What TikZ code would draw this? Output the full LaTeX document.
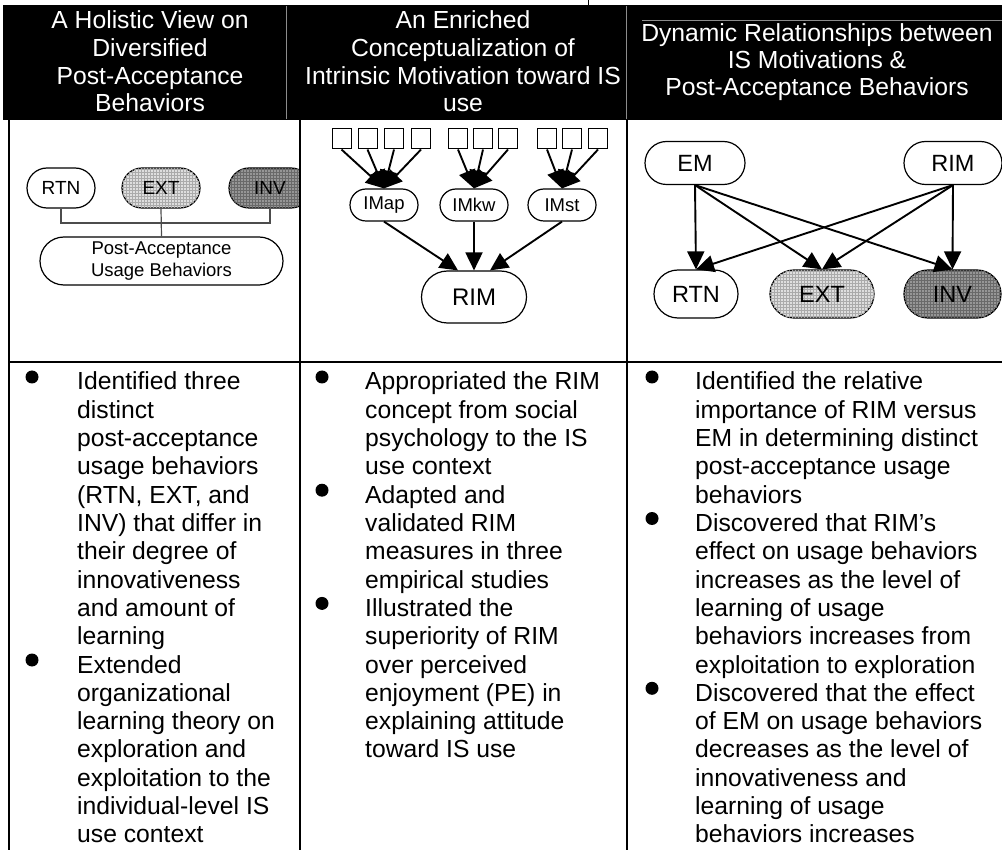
\documentclass[tikz,border=0pt]{standalone}
\usepackage{fontspec}
\setmainfont{Liberation Sans}
\usetikzlibrary{arrows.meta,shapes.misc,patterns}

\definecolor{extfill}{RGB}{222,222,222}
\definecolor{extgrid}{RGB}{170,170,170}
\definecolor{invfill}{RGB}{150,150,150}
\definecolor{invgrid}{RGB}{105,105,105}
\definecolor{sepgray}{RGB}{140,140,140}

\tikzset{
  stadium/.style={rounded rectangle, draw=black, line width=1.2pt, inner sep=0pt},
  extstyle/.style={fill=extfill, postaction={pattern=grid, pattern color=extgrid}},
  invstyle/.style={fill=invfill, postaction={pattern=grid, pattern color=invgrid}},
  sqbox/.style={rectangle, draw=black, line width=1pt, minimum width=19pt, minimum height=20pt, inner sep=0pt},
  arr/.style={-{Triangle[length=18pt,width=17pt]}, line width=1.9pt},
  link/.style={line width=1.2pt, draw=black!70},
  headtxt/.style={anchor=base, inner sep=0pt, text=white, font=\fontsize{24.7}{28}\selectfont},
  bodytxt/.style={anchor=base west, inner sep=0pt, font=\fontsize{24.7}{28}\selectfont},
  dot/.style={circle, fill=black, minimum size=13pt, inner sep=0pt},
  rule/.style={line width=2.4pt, draw=black},
}

\begin{document}
\begin{tikzpicture}[x=1pt,y=-1pt]
\useasboundingbox (0,0) rectangle (1002,850);

% ---------- header band ----------
\fill[black] (3,5) rectangle (1002,120);
\draw[sepgray, line width=0.8pt] (286,6) -- (286,119);
\draw[sepgray, line width=0.8pt] (626,6) -- (626,119);
\draw[sepgray, line width=0.8pt] (642,20) -- (1002,20);
\draw[line width=1pt] (588,0) -- (588,5);

\foreach \t [count=\i from 0] in {A Holistic View on, Diversified, Post-Acceptance, Behaviors}
  \node[headtxt] (ha\i) at (150, 28.5+27.8*\i) {\t};
\foreach \t [count=\i from 0] in {An Enriched, Conceptualization of, Intrinsic Motivation toward IS, use}
  \node[headtxt] (hb\i) at (463, 28.5+27.8*\i) {\t};
\foreach \t [count=\i from 0] in {Dynamic Relationships between, IS Motivations \&, Post-Acceptance Behaviors}
  \node[headtxt] (hc\i) at (817, 42+26.8*\i) {\t};

% ---------- column 1 diagram ----------
\begin{scope}
  \clip (9,118) rectangle (300,362);
  \node[stadium, minimum width=68pt, minimum height=40pt, font=\fontsize{19}{21}\selectfont] (rtnA) at (61,188) {RTN};
  \node[stadium, extstyle, minimum width=78pt, minimum height=40pt, font=\fontsize{19}{21}\selectfont] (extA) at (161,188) {EXT};
  \node[stadium, invstyle, minimum width=82pt, minimum height=40pt, font=\fontsize{19}{21}\selectfont] (invA) at (270,188) {INV};
  \node[stadium, minimum width=243pt, minimum height=48pt, align=center, font=\fontsize{18.5}{22}\selectfont] (pau) at (161.5,261) {Post-Acceptance\\Usage Behaviors};
  \coordinate (hub) at (161,223);
  \draw[link] (rtnA.south) |- (hub) -| (invA.south);
  \draw[link] (extA.south) -- (pau.north);
\end{scope}

% ---------- column 2 diagram ----------
\node[stadium, minimum width=68pt, minimum height=32pt, font=\fontsize{18.5}{20}\selectfont] (imap) at (384,205) {IMap};
\node[stadium, minimum width=68pt, minimum height=32pt, font=\fontsize{18.5}{20}\selectfont] (imkw) at (474,205) {IMkw};
\node[stadium, minimum width=68pt, minimum height=32pt, font=\fontsize{18.5}{20}\selectfont] (imst) at (562,205) {IMst};
\node[stadium, minimum width=105pt, minimum height=52pt, font=\fontsize{24}{26}\selectfont] (rimB) at (474,297) {RIM};

\foreach \x [count=\i] in {341.5,367.5,394,421} {
  \node[sqbox] (sa\i) at (\x,139) {};
  \draw[arr] (sa\i.south) -- (imap.north);
}
\foreach \x [count=\i] in {458,483,508} {
  \node[sqbox] (sb\i) at (\x,139) {};
  \draw[arr] (sb\i.south) -- (imkw.north);
}
\foreach \x [count=\i] in {547,572,598} {
  \node[sqbox] (sc\i) at (\x,139) {};
  \draw[arr] (sc\i.south) -- (imst.north);
}
\draw[arr] (imap.south) -- ([xshift=-16pt]rimB.north);
\draw[arr] (imkw.south) -- (rimB.north);
\draw[arr] (imst.south) -- ([xshift=16pt]rimB.north);

% ---------- column 3 diagram ----------
\node[stadium, minimum width=100pt, minimum height=43pt, font=\fontsize{23.5}{26}\selectfont] (em) at (695,163) {EM};
\node[stadium, minimum width=98pt, minimum height=43pt, font=\fontsize{23.5}{26}\selectfont] (rimC) at (953,163) {RIM};
\node[stadium, minimum width=84pt, minimum height=48pt, font=\fontsize{23.5}{26}\selectfont] (rtnC) at (696,294) {RTN};
\node[stadium, extstyle, minimum width=104pt, minimum height=48pt, font=\fontsize{23.5}{26}\selectfont] (extC) at (822,294) {EXT};
\node[stadium, invstyle, minimum width=97pt, minimum height=48pt, font=\fontsize{23.5}{26}\selectfont] (invC) at (952.5,294) {INV};

\foreach \tgt in {rtnC,extC,invC} {
  \draw[arr] (em.south) -- (\tgt.north);
  \draw[arr] (rimC.south) -- (\tgt.north);
}

% ---------- table rules ----------
\draw[rule] (9,119) -- (9,850);
\draw[rule] (300,119) -- (300,850);
\draw[rule] (627,119) -- (627,850);
\draw[rule] (9,362) -- (1002,362);

% ---------- column 1 text ----------
\foreach \t [count=\i from 0] in {Identified three, distinct, post-acceptance, usage behaviors, {(RTN, EXT, and}, {INV) that differ in}, their degree of, innovativeness, and amount of, learning, Extended, organizational, learning theory on, exploration and, exploitation to the, individual-level IS, use context}
  \node[bodytxt] (ta\i) at (77, 390+28.3*\i) {\t};
\foreach \k in {0,10}
  \node[dot] (da\k) at (32, 377+28.3*\k) {};

% ---------- column 2 text ----------
\foreach \t [count=\i from 0] in {Appropriated the RIM, concept from social, psychology to the IS, use context, Adapted and, validated RIM, measures in three, empirical studies, Illustrated the, superiority of RIM, over perceived, enjoyment (PE) in, explaining attitude, toward IS use}
  \node[bodytxt] (tb\i) at (365, 390+28.3*\i) {\t};
\foreach \k in {0,4,8}
  \node[dot] (db\k) at (322, 377+28.3*\k) {};

% ---------- column 3 text ----------
\foreach \t [count=\i from 0] in {Identified the relative, importance of RIM versus, EM in determining distinct, post-acceptance usage, behaviors, Discovered that RIM’s, effect on usage behaviors, increases as the level of, learning of usage, behaviors increases from, exploitation to exploration, Discovered that the effect, of EM on usage behaviors, decreases as the level of, innovativeness and, learning of usage, behaviors increases}
  \node[bodytxt] (tc\i) at (695, 390+28.3*\i) {\t};
\foreach \k in {0,5,11}
  \node[dot] (dc\k) at (652, 377+28.3*\k) {};

\end{tikzpicture}
\end{document}
